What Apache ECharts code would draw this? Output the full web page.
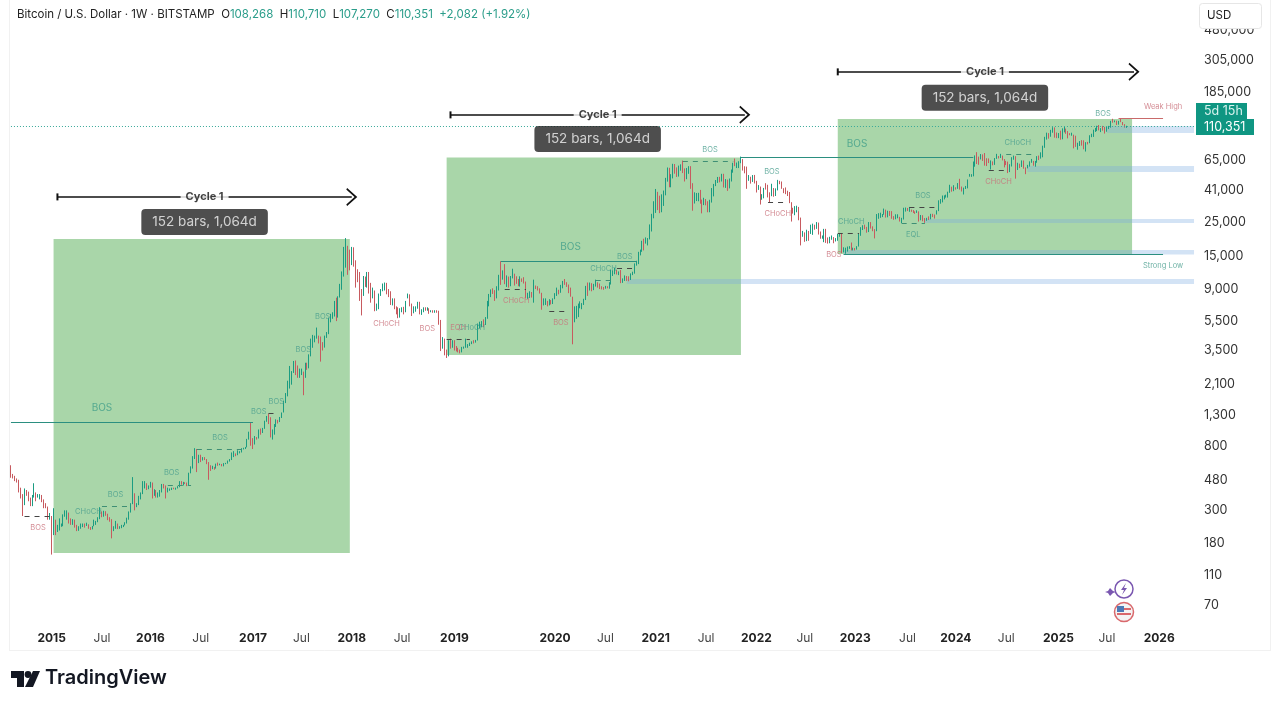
<!DOCTYPE html>
<html>
<head>
<meta charset="utf-8">
<title>Bitcoin / U.S. Dollar 1W</title>
<script src="https://cdn.jsdelivr.net/npm/echarts@6/dist/echarts.min.js"></script>
<style>
html,body{margin:0;padding:0;background:#fff}
#chart{width:1279px;height:707px}
</style>
</head>
<body>
<div id="chart"></div>
<script>
// weekly bars, first bar closes 2014-08-24, opens come from the previous close
var firstOpen = 590;
var closes = [
510,505,480,475,405,380,325,390,385,355,325,365,385,375,375,375,350,330,315,
265,270,208,250,225,225,235,240,260,275,285,260,245,255,235,222,226,235,240,235,240,228,225,235,245,250,260,285,275,290,280,265,258,228,228,240,230,231,232,238,247,262,285,325,375,320,322,370,390,435,440,420,
430,448,385,405,370,375,405,440,432,400,412,412,425,420,420,430,460,450,460,455,440,530,575,680,765,665,700,650,665,660,625,590,570,580,575,610,608,610,605,615,618,640,655,700,710,705,730,730,770,775,790,895,
1000,905,825,920,915,1020,1000,1055,1170,1260,1235,965,965,1110,1210,1180,1250,1350,1580,1770,2050,2050,2520,2950,2640,2500,2500,2500,1930,2750,2720,3250,4060,4080,4340,4350,4200,3680,3660,4370,4600,5700,6000,6150,7400,5800,8000,9300,11200,15000,19000,14000,13800,
16200,13600,11500,11400,8200,8100,10400,9600,11400,9500,8200,8500,6800,7000,8300,8900,9400,9650,8700,8500,7350,7700,6750,6450,6150,6350,6700,6350,7400,8200,7000,6300,6500,6700,7200,6250,6500,6700,6600,6600,6300,6400,6350,6450,6350,5550,3900,4100,3400,3200,3900,3800,
4050,3650,3550,3530,3450,3650,3670,3750,3810,3930,4000,3990,4100,5050,5100,5300,5280,5750,6950,8100,8750,8550,7950,8950,10850,10800,11450,10200,10750,9500,10900,11300,10300,10100,9700,10400,10300,10000,8000,8000,8300,8200,9500,9300,9000,8500,7000,7400,7500,7100,7500,7300,
7750,8150,8700,8600,9350,10150,9900,9650,8550,8050,5200,5800,5900,6780,6900,7120,7700,8900,8700,9700,8900,9450,9750,9350,9300,9120,9080,9300,9200,9930,11050,11680,11900,11650,11700,10280,10330,10920,10780,10680,11370,11500,13030,13750,15480,15970,18400,18200,19150,19270,23800,26300,
33000,38200,35800,32300,33100,39200,48600,57400,45200,51200,59000,57500,55800,58200,60000,56200,49000,56600,58300,46500,34800,35600,35800,39000,35600,34700,35300,34200,31800,35400,39900,43800,47000,49300,48800,51800,45100,47300,43200,48200,54700,61500,60900,61300,63300,65500,58600,57300,49400,50100,46700,50800,
47300,41900,43100,36300,37900,42400,42100,38300,37700,39400,37800,41300,46900,46400,42800,39700,39500,38500,34000,31300,29400,29500,29900,26600,20600,21000,19300,20900,20800,22600,23300,23200,24300,21500,19600,20000,21800,19400,18800,19000,19400,19300,19600,20600,20900,16300,16300,16400,16900,17100,16700,16800,
16600,17100,20900,22700,23800,22900,21800,24600,23200,22400,22100,27900,27900,28200,28300,30300,27600,29200,28900,26900,26700,26800,27100,25800,26300,30500,30600,30300,30300,30100,29300,29000,29300,26100,26100,25900,25800,26500,26300,28000,27900,27200,30000,34500,35000,37000,37400,37500,39500,43800,41400,43000,42300,
43900,41700,41600,42000,43000,48300,51600,51700,63000,68900,68300,67200,71300,69400,65700,64900,63100,64000,61500,66900,69000,67800,69600,66700,64300,62700,55900,60800,68000,68200,58100,58700,58400,64200,58000,54900,59800,63600,65600,62800,62900,69000,68000,68700,80400,89900,97900,96400,101200,104500,95100,93700,
98300,94500,101000,102600,100600,96500,96200,96300,94300,80700,82600,86000,82600,78200,85300,85100,93700,94300,104000,106400,109000,105700,105800,105500,101000,108400,109200,119100,117300,119400,114200,119300,117500,113500,108268,110351
];
var highs = [
600,525,510,490,480,425,385,420,410,400,365,380,455,395,385,385,380,355,335,
318,288,275,310,260,240,265,245,282,300,300,290,265,262,260,240,235,245,245,245,248,242,232,236,260,255,270,315,295,298,296,285,270,262,235,255,245,235,240,240,250,268,295,335,500,390,335,375,395,470,470,455,
440,465,460,415,410,395,410,450,450,440,425,420,425,425,425,435,470,470,465,462,460,535,590,690,780,770,705,705,680,680,660,630,600,595,585,615,625,615,612,620,622,645,660,730,745,720,755,745,780,785,795,900,
1005,1150,910,940,925,1040,1055,1065,1190,1280,1325,1255,1040,1130,1215,1205,1260,1350,1620,1820,2200,2760,2550,2980,3000,2780,2650,2650,2530,2900,2900,3300,4200,4450,4400,4980,4400,4340,3980,4400,4650,5800,6150,6300,7500,7880,8050,9750,11800,17200,19700,17500,16500,
17200,17100,14000,12200,11700,9000,11000,10900,11700,11700,9900,9200,8800,7200,8400,9000,9800,9950,9900,9000,8700,7800,7800,6900,6800,6700,6800,6850,7500,8400,8300,7200,6900,6900,7400,7400,6600,6800,6800,6800,6700,6500,6500,6500,6500,6450,5600,4300,4200,3550,4100,4200,
4100,4100,3750,3650,3550,3700,3720,4200,3860,3950,4030,4100,4120,5300,5450,5500,5650,5850,7500,8350,8950,9100,8850,9400,11200,13800,12000,13200,11100,10900,11000,12300,11400,10950,10500,10950,10600,10800,10100,8500,8700,8600,10400,9500,9400,9100,8500,7800,7800,7500,7700,7600,
7800,8450,9200,8900,9600,10200,10500,10000,9650,9200,8000,6900,6950,7200,7450,7250,7750,9450,9950,9950,9850,9750,10400,9990,9800,9400,9300,9450,9400,10000,12100,12000,12450,12100,11800,12050,10600,11100,11000,10950,11450,11750,13350,13900,15950,16500,18900,19500,19900,19700,24300,28600,
34700,41900,40100,37800,38600,40900,49700,58300,58000,52600,61700,61500,58400,60000,61200,64800,57500,57900,59500,59500,45800,39800,39400,39500,41300,35600,36600,35900,34700,35500,42500,45300,48100,50400,50500,52900,52900,48800,48400,49200,56500,62700,66900,62900,64200,68900,66300,59400,59100,51900,50600,51900,
52000,47500,44500,43500,38700,42600,45800,44700,39800,45400,42500,42300,48200,47500,47000,42400,42900,40800,40000,34200,31400,32200,32400,31800,27000,22000,21500,22400,22000,24200,24600,24200,25200,25000,21800,20500,22700,22700,19900,20100,20500,20000,19700,21000,21300,21000,17100,17000,17300,17400,18400,17000,
16900,17400,21300,23300,24000,24200,23400,25200,25200,23600,22600,28500,28900,29100,28500,31000,30500,30000,29900,29800,27600,28400,28400,27300,26900,31400,31500,31300,31800,30500,30300,29700,30200,29700,28100,28000,26800,26900,27500,28600,28600,28300,30200,35200,35900,37900,38000,38400,40200,44700,43400,44400,43000,
45900,49000,43500,42800,43900,48500,52800,52600,63900,70200,73800,68900,71700,71300,72800,67200,67000,65000,64000,67400,71900,69500,71900,70000,66400,64500,63800,61300,68300,70000,69400,62700,61800,65000,64900,58400,60700,64100,66500,64500,64500,69400,70000,73600,81500,93400,99600,98900,104000,108300,108000,99800,
99000,102700,106400,109500,106000,102000,98800,99500,96500,95000,85300,87500,88700,88500,86000,86400,95700,97900,104300,107100,110700,112000,106800,110500,108900,108800,110500,119400,123200,120200,119700,119300,124400,117300,113500,110710
];
var lows = [
495,490,470,460,395,360,275,325,375,345,320,320,365,345,365,355,340,310,310,
260,260,152,205,205,215,220,233,235,272,260,245,240,240,230,218,219,226,232,230,236,226,222,224,235,240,250,262,270,272,276,258,252,195,218,226,225,226,228,232,238,245,260,290,330,300,315,325,355,385,420,410,
415,425,360,375,365,365,370,395,420,360,395,405,410,415,412,420,428,445,440,450,435,440,530,570,660,540,620,630,645,650,610,480,550,565,560,570,595,600,590,590,610,615,635,650,680,690,700,720,730,765,770,790,
890,810,770,825,890,905,960,985,1050,1170,1130,920,890,960,1080,1140,1165,1240,1350,1560,1730,1950,2070,2480,2400,2300,2300,2400,1760,2300,2600,2660,3200,3650,3970,4200,3900,2950,3500,3660,4250,4500,5400,5700,5900,5500,5800,7900,8900,10900,12500,11200,12000,
13000,12700,9200,10000,7500,6000,8100,9300,9200,8400,7300,7800,6400,6450,6600,8100,8700,8800,8300,7950,7050,7000,6600,6100,5750,5800,6300,6100,6300,7800,6900,5950,6200,6350,6650,6100,6050,6300,6450,6450,6150,6300,6250,6250,6250,5200,3470,3600,3250,3120,3200,3600,
3650,3500,3450,3400,3350,3400,3600,3650,3650,3750,3860,3900,3950,4080,4900,5000,5000,5180,5700,6900,7950,8350,7500,7800,8800,9600,10400,9700,9300,9200,9400,10600,9500,9750,9400,9350,10050,9800,7800,7750,7850,7900,7300,9000,8800,8400,6550,7000,7050,6900,7000,7100,
7150,7700,8100,8300,8500,9100,9600,9300,8450,8000,3850,5400,5700,5850,6700,6600,7050,7600,8100,8800,8700,8850,9350,9200,9000,8950,8900,9050,9100,9050,9650,11000,11300,11250,11150,9850,9900,10200,10200,10150,10350,11150,11400,12900,13200,15100,15950,16300,18100,17600,19300,21800,
26700,29000,30300,28900,29300,32300,38000,46900,43000,43000,49300,53000,50400,50700,55500,53500,47000,48700,52900,42000,30000,33500,34800,34700,33400,28800,32700,32600,29300,29300,34000,37400,43800,46000,46400,47000,42900,42600,40700,42300,47000,53800,59500,57800,57800,62300,55600,53300,42000,47500,45500,46700,
45600,39700,41300,33000,35500,36300,41500,36800,34300,37500,37200,37600,41000,45100,42000,39300,38700,37600,33700,25400,28700,28000,29300,25900,17600,20100,18600,18800,18900,21000,20700,22400,22700,20800,19500,19500,18500,18300,18100,18200,19200,18200,18700,18900,20100,15600,15800,15500,16000,16700,16300,16300,
16300,16500,17300,20400,22300,22600,21400,21600,22800,21900,19600,21900,26500,26900,27200,28200,27000,27100,27700,26500,26100,26300,26700,25400,24800,26200,29600,29900,29500,29500,29000,28600,29000,25400,25900,25500,24900,25700,26000,26300,27200,26600,28300,29800,33400,34100,35700,36700,36700,39500,40200,40500,41500,
42000,41500,40300,38500,41900,42300,50600,50500,50900,59000,61500,60800,66000,64500,60000,59600,62400,56500,60300,60700,66600,67000,67500,65000,58400,60500,53500,54300,59200,65700,49100,56100,57700,58800,57200,52600,57500,59100,62700,59900,59000,62700,65300,66800,68200,78900,89500,90800,93500,99500,92200,91500,
91500,89300,89900,100000,97800,91200,95700,95000,78200,80000,76600,81100,81600,77100,74500,83100,84700,92900,93300,100700,102000,103100,100400,102700,98200,101000,105200,107500,116000,116800,112000,112600,117000,111700,107500,107270
];
var barCount = 612;

var priceTicks = [480000,305000,185000,65000,41000,25000,15000,9000,5500,3500,2100,1300,800,480,300,180,110,70];
var timeTickLabels = ['2015','Jul','2016','Jul','2017','Jul','2018','Jul','2019','2020','Jul','2021','Jul','2022','Jul','2023','Jul','2024','Jul','2025','Jul','2026'];
var timeTickBars = [21,47,72,98,125,150,176,202,229,281,307,333,359,385,410,436,463,488,514,541,566,593];
var lastPrice = 110351;

// drawings: [fromBar, topPrice, toBar, bottomPrice]
var cycleBoxes = [[22,19450,175,156],[225,67900,377,3270],[427,123000,579,15450]];
var demandZones = [[566,110500,99240],[525,59760,54500],[472,26460,24880],[430,16430,15330],[318,10520,9740]];
// [fromBar, toBar, price]
var cycleArrows = [[24,176,37100],[227,379,130900],[427,580,253500]];
var bosLines = [[0,125,1159],[253,323,13740],[377,497,68000],[430,595,15340]];
var weakHighLine = [572,595,123600];
var dashedDark = [[7,20,275],[133,136,1341],[225,237,4182],[278,286,6432],[255,266,9022],[313,321,12460],[427,438,21340],[464,478,31820],[505,514,56190],[391,400,34370]];
var dashedGreen = [[47,62,318],[96,119,771],[81,93,443],[302,310,10360],[347,373,64540],[514,527,71850],[460,472,24880]];
// [bar, price, text]
var tealNotes = [[54,380,'BOS'],[40,293,'CHoCH'],[83,533,'BOS'],[108,920,'BOS'],[128,1362,'BOS'],[137,1588,'BOS'],[151,3532,'BOS'],[161,5868,'BOS'],[238,4955,'CHoCH'],[317,14760,'BOS'],[306,12270,'CHoCH'],[361,76400,'BOS'],[393,54500,'BOS'],[434,25270,'CHoCH'],[471,37670,'BOS'],[466,20700,'EQL'],[564,132900,'BOS'],[520,85100,'CHoCH'],[595,12850,'Strong Low']];
var redNotes = [[14,229,'BOS'],[194,5268,'CHoCH'],[215,4877,'BOS'],[231,4955,'EQH'],[261,7502,'CHoCH'],[284,5350,'BOS'],[396,28580,'CHoCH'],[425,15210,'BOS'],[510,46730,'CHoCH'],[595,148000,'Weak High']];
var bigNotes = [[47,1449,'BOS'],[289,17220,'BOS'],[437,83800,'BOS']];
var cycleNotes = [[100,37100,'Cycle 1'],[303,130900,'Cycle 1'],[503,253500,'Cycle 1']];
var rangeNotes = [[100,25270,'152 bars, 1,064d'],[303,90500,'152 bars, 1,064d'],[503,170000,'152 bars, 1,064d']];

var upColor = '#1b9c82', downColor = '#c75a5f', teal = '#2b8f80';
var font = 'Inter, "Noto Sans", sans-serif';

var candles = closes.map(function (c, i) {
  return [i ? closes[i - 1] : firstOpen, c, lows[i], highs[i]];
});
var barNames = [];
for (var i = 0; i < barCount; i++) barNames.push(String(i));

function flat(list, style) {
  return list.map(function (l) {
    return [{coord: [l[0], l[2]], lineStyle: style}, {coord: [l[1], l[2]]}];
  });
}
function notes(name, list, size, color, weight) {
  return {
    name: name, type: 'scatter', z: 10, symbolSize: 0, silent: true,
    data: list.map(function (n) { return {value: [n[0], n[1]], text: n[2]}; }),
    label: {
      show: true, position: 'inside', fontFamily: font, fontSize: size, color: color, fontWeight: weight || 'normal',
      formatter: function (p) { return p.data.text; }
    }
  };
}

var arrowHead = 'path://M0 11 L6 0 L12 11 L11 12 L6 3 L1 12 Z';
var arrowLines = cycleArrows.map(function (a) {
  return [
    {coord: [a[0], a[2]], symbol: 'rect', symbolSize: [7, 2], lineStyle: {color: '#111', width: 1.6, type: 'solid'}},
    {coord: [a[1], a[2]], symbol: arrowHead, symbolSize: [18, 11]}
  ];
});

var cycleLabelSeries = notes('cycle', cycleNotes, 11, '#111', 'bold');
cycleLabelSeries.label.backgroundColor = '#fff';
cycleLabelSeries.label.padding = [1, 5];
var rangeLabelSeries = notes('range', rangeNotes, 13.5, '#f2f2f2');
rangeLabelSeries.label.backgroundColor = '#222';
rangeLabelSeries.label.padding = [6, 11];
rangeLabelSeries.label.borderRadius = 4;

var chart = echarts.init(document.getElementById('chart'), null, {renderer: 'canvas'});
chart.setOption({
  animation: false,
  backgroundColor: '#fff',
  grid: {left: 10, right: 84, top: 0, bottom: 82},
  xAxis: {
    type: 'category', data: barNames, boundaryGap: true,
    axisLine: {show: false}, axisTick: {show: false}, splitLine: {show: false},
    axisLabel: {
      margin: 7, fontFamily: font, fontSize: 12, color: '#444',
      interval: function (i) { return timeTickBars.indexOf(i) >= 0; },
      formatter: function (v, i) {
        var t = timeTickLabels[timeTickBars.indexOf(Number(v))];
        return t === 'Jul' ? t : '{y|' + t + '}';
      },
      rich: {y: {fontFamily: font, fontSize: 12, fontWeight: 'bold', color: '#222'}}
    }
  },
  yAxis: {
    type: 'log', position: 'right', min: 51.5, max: 765000, logBase: 10,
    axisLine: {show: false}, axisTick: {show: false}, splitLine: {show: false}, minorSplitLine: {show: false},
    axisLabel: {
      margin: 9, fontFamily: font, fontSize: 12.5, color: '#333', customValues: priceTicks,
      formatter: function (v) { return Math.round(v).toLocaleString('en-US'); }
    }
  },
  series: [
    {
      name: 'BTCUSD', type: 'candlestick', data: candles, barWidth: 1.2, z: 3,
      itemStyle: {color: upColor, color0: downColor, borderColor: upColor, borderColor0: downColor, borderWidth: 1},
      markArea: {
        silent: true,
        data: cycleBoxes.map(function (b) {
          return [{coord: [b[0], b[1]], itemStyle: {color: '#a9d6a9', opacity: 1}}, {coord: [b[2], b[3]]}];
        }).concat(demandZones.map(function (z) {
          return [{coord: [z[0], z[1]], itemStyle: {color: 'rgba(120,170,225,0.33)', opacity: 1}}, {coord: [barCount - 1, z[2]]}];
        }))
      },
      markLine: {
        silent: true, symbol: ['none', 'none'], label: {show: false}, animation: false,
        data: flat(bosLines, {color: teal, width: 1, type: 'solid'})
          .concat(flat([weakHighLine], {color: '#c96a6a', width: 1, type: 'solid'}))
          .concat(flat(dashedDark, {color: '#444', width: 1, type: [5, 5]}))
          .concat(flat(dashedGreen, {color: '#3f8f75', width: 1, type: [5, 5]}))
          .concat(arrowLines)
          .concat([[{coord: [0, lastPrice], lineStyle: {color: '#3aa99a', width: 1, type: [1, 2]}}, {coord: [barCount - 1, lastPrice]}]])
      }
    },
    notes('teal notes', tealNotes, 7.5, '#4a9f8e'),
    notes('red notes', redNotes, 7.5, '#c9707a'),
    notes('big notes', bigNotes, 10, '#3f9d8a'),
    cycleLabelSeries,
    rangeLabelSeries
  ],
  graphic: [
    // frame
    {type: 'line', shape: {x1: 9.5, y1: 0, x2: 9.5, y2: 650}, style: {stroke: '#f1f1f1', lineWidth: 1}},
    {type: 'line', shape: {x1: 1270.5, y1: 0, x2: 1270.5, y2: 650}, style: {stroke: '#f1f1f1', lineWidth: 1}},
    {type: 'line', shape: {x1: 9, y1: 650.5, x2: 1271, y2: 650.5}, style: {stroke: '#f1f1f1', lineWidth: 1}},
    // legend line
    {
      type: 'text', left: 17, top: 9, z: 20,
      style: {
        text: 'Bitcoin / U.S. Dollar · 1W · BITSTAMP  O{v|108,268}  H{v|110,710}  L{v|107,270}  C{v|110,351}  {v|+2,082 (+1.92%)}',
        font: '11.5px ' + font, fill: '#222',
        rich: {v: {font: '11.5px ' + font, fill: '#2a9d8a'}}
      }
    },
    // currency box
    {type: 'rect', shape: {x: 1199.5, y: 3.5, width: 62, height: 25, r: 3}, z: 20, style: {fill: '#fff', stroke: '#e6e6e6'}},
    {type: 'text', left: 1207, top: 10, z: 21, style: {text: 'USD', font: '11.5px ' + font, fill: '#222'}},
    // last price tag
    {type: 'rect', shape: {x: 1196, y: 103, width: 51, height: 16}, z: 20, style: {fill: '#0f9682'}},
    {type: 'rect', shape: {x: 1196, y: 119, width: 58, height: 16}, z: 20, style: {fill: '#0f9682'}},
    {type: 'text', left: 1204, top: 105, z: 21, style: {text: '5d 15h', font: '12.5px ' + font, fill: '#d8f3ee'}},
    {type: 'text', left: 1204, top: 121, z: 21, style: {text: '110,351', font: '12.5px ' + font, fill: '#fff'}},
    // TradingView mark
    {type: 'polygon', shape: {points: [[11, 671], [24, 671], [24, 687], [17, 687], [17, 678], [11, 678]]}, style: {fill: '#131722'}},
    {type: 'circle', shape: {cx: 28, cy: 674.5, r: 3.4}, style: {fill: '#131722'}},
    {type: 'polygon', shape: {points: [[33, 671], [40, 671], [33, 687], [25, 687]]}, style: {fill: '#131722'}},
    {type: 'text', left: 45, top: 668, style: {text: 'TradingView', font: '600 20px ' + font, fill: '#131722'}},
    // event icons
    {type: 'circle', shape: {cx: 1124, cy: 589, r: 9}, z: 20, style: {fill: '#fff', stroke: '#7a57b0', lineWidth: 1.5}},
    {type: 'polygon', shape: {points: [[1126, 583], [1121, 590], [1124, 590], [1122, 595], [1127, 588], [1124, 588]]}, z: 21, style: {fill: '#7a57b0'}},
    {type: 'polygon', shape: {points: [[1110, 588], [1113, 591], [1116, 592], [1113, 593], [1110, 596], [1108, 593], [1105, 592], [1108, 591]]}, z: 21, style: {fill: '#7a57b0'}},
    {type: 'circle', shape: {cx: 1124, cy: 612, r: 9.5}, z: 20, style: {fill: '#f4f4f4', stroke: '#d9686c', lineWidth: 1.5}},
    {type: 'rect', shape: {x: 1117, y: 606, width: 7, height: 6}, z: 21, style: {fill: '#4d79b5'}},
    {type: 'rect', shape: {x: 1117, y: 613, width: 14, height: 2}, z: 21, style: {fill: '#d9686c'}},
    {type: 'rect', shape: {x: 1124, y: 608, width: 7, height: 2}, z: 21, style: {fill: '#d9686c'}}
  ]
});
</script>
</body>
</html>
